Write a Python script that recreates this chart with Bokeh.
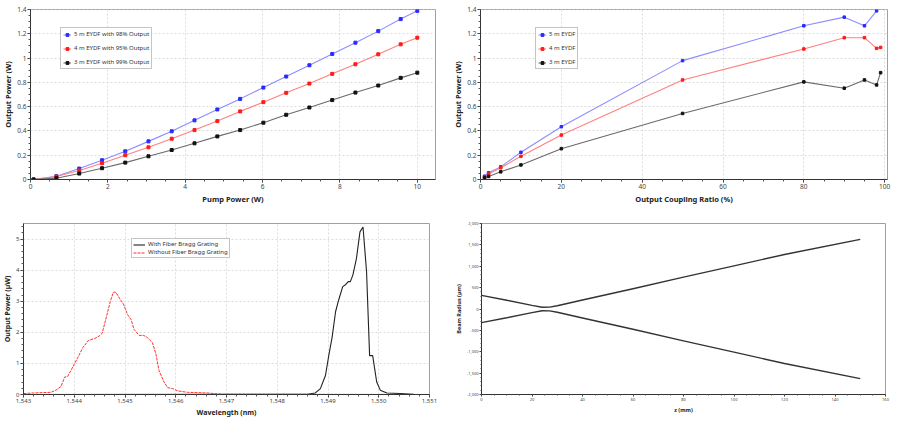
from bokeh.plotting import figure
from bokeh.models import Range1d, NumeralTickFormatter, Legend, LegendItem, SingleIntervalTicker
from bokeh.layouts import column, row
from bokeh.embed import file_html
from bokeh.resources import INLINE

FONT = "Noto Sans"

# ---- Data: pump power sweep (top-left) ----
pump_power = [0.08, 0.67, 1.26, 1.85, 2.45, 3.05, 3.65, 4.24, 4.83, 5.42, 6.02, 6.61, 7.21, 7.80, 8.40, 8.99, 9.57, 10.0]
out_5m_98 = [0.0, 0.027, 0.09, 0.159, 0.232, 0.314, 0.397, 0.487, 0.577, 0.664, 0.757, 0.848, 0.941, 1.034, 1.127, 1.222, 1.321, 1.389]
out_4m_95 = [0.0, 0.025, 0.074, 0.134, 0.200, 0.265, 0.336, 0.407, 0.481, 0.561, 0.637, 0.714, 0.790, 0.870, 0.949, 1.031, 1.113, 1.168]
out_3m_99 = [0.0, 0.011, 0.049, 0.093, 0.139, 0.191, 0.243, 0.298, 0.355, 0.407, 0.468, 0.533, 0.593, 0.654, 0.716, 0.774, 0.837, 0.880]

# ---- Data: output coupling ratio sweep (top-right) ----
ratio_5m = [1, 2, 5, 10, 20, 50, 80, 90, 95, 98]
cr_5m = [0.027, 0.055, 0.104, 0.224, 0.435, 0.979, 1.266, 1.337, 1.266, 1.389]
ratio_4m = [1, 2, 5, 10, 20, 50, 80, 90, 95, 98, 99]
cr_4m = [0.016, 0.046, 0.096, 0.191, 0.366, 0.82, 1.075, 1.168, 1.168, 1.08, 1.088]
ratio_3m = [1, 2, 5, 10, 20, 50, 80, 90, 95, 98, 99]
cr_3m = [0.014, 0.025, 0.063, 0.12, 0.254, 0.544, 0.804, 0.752, 0.82, 0.779, 0.88]

# ---- Data: spectra (bottom-left) ----
wl_fbg = [1543.0, 1548.59, 1548.75, 1548.85, 1548.95, 1549.02, 1549.08, 1549.15, 1549.21, 1549.29, 1549.35,
          1549.40, 1549.44, 1549.49, 1549.56, 1549.63, 1549.69, 1549.76, 1549.82, 1549.88, 1549.96, 1550.03,
          1550.16, 1550.42, 1550.69, 1551.0]
pw_fbg = [0.0, 0.01, 0.05, 0.19, 0.61, 1.30, 1.83, 2.67, 3.04, 3.47, 3.54,
          3.63, 3.63, 3.84, 4.37, 5.23, 5.39, 3.94, 1.25, 1.25, 0.40, 0.14,
          0.05, 0.03, 0.01, 0.0]
wl_nofbg = [1543.0, 1543.2, 1543.54, 1543.64, 1543.74, 1543.81, 1543.87, 1543.97, 1544.07, 1544.17, 1544.28,
            1544.40, 1544.49, 1544.55, 1544.62, 1544.71, 1544.77, 1544.82, 1544.89, 1544.97, 1545.05, 1545.12,
            1545.18, 1545.28, 1545.37, 1545.44, 1545.54, 1545.61, 1545.67, 1545.77, 1545.84, 1545.94, 1546.03,
            1546.23, 1546.62, 1546.89, 1551.0]
pw_nofbg = [0.03, 0.05, 0.07, 0.14, 0.26, 0.56, 0.58, 0.88, 1.19, 1.51, 1.74,
            1.80, 1.88, 1.97, 2.41, 2.99, 3.29, 3.29, 3.10, 2.91, 2.57, 2.41,
            2.09, 1.90, 1.90, 1.83, 1.67, 1.30, 0.77, 0.40, 0.22, 0.19, 0.12,
            0.07, 0.05, 0.01, 0.0]

# ---- Data: beam radius (bottom-right) ----
z_mm = [0, 10, 20, 24, 27, 30, 40, 60, 80, 100, 120, 150]
radius_upper = [320, 205, 85, 42, 45, 75, 210, 475, 745, 1010, 1275, 1630]
radius_lower = [-320, -205, -85, -42, -45, -75, -210, -475, -745, -1010, -1275, -1630]


def make_fig(width, height, bl, br, bt, bb, xr, yr):
    p = figure(width=width, height=height, x_range=Range1d(*xr), y_range=Range1d(*yr),
               output_backend="svg", toolbar_location=None,
               min_border_left=bl, min_border_right=br, min_border_top=bt, min_border_bottom=bb)
    p.outline_line_color = "#a0a0a0"
    p.background_fill_color = "white"
    p.border_fill_color = "white"
    return p


def style_axes(p, tick_fs, label_fs, tick_out=3, minor_out=2):
    for ax in (p.xaxis[0], p.yaxis[0]):
        ax.major_label_text_font = FONT
        ax.major_label_text_font_size = tick_fs
        ax.major_label_text_color = "#444444"
        ax.axis_label_text_font = FONT
        ax.axis_label_text_font_size = label_fs
        ax.axis_label_text_font_style = "bold"
        ax.axis_label_text_color = "#222222"
        ax.axis_line_color = "#333333"
        ax.major_tick_line_color = "#333333"
        ax.minor_tick_line_color = "#555555"
        ax.major_tick_in = 0
        ax.major_tick_out = tick_out
        ax.minor_tick_in = 0
        ax.minor_tick_out = minor_out
        ax.major_label_standoff = 1
        ax.axis_label_standoff = 2
    p.yaxis[0].axis_label_standoff = 1


def style_grid(p):
    p.grid.grid_line_color = "#dcdcdc"
    p.grid.grid_line_dash = "2 2"


def style_legend(lg, fs, label_h, spacing, padding, glyph_w=8):
    lg.label_text_font = FONT
    lg.label_text_font_size = fs
    lg.label_text_color = "#333333"
    lg.label_height = label_h
    lg.glyph_height = label_h
    lg.glyph_width = glyph_w
    lg.label_standoff = 3
    lg.spacing = spacing
    lg.padding = padding
    lg.margin = 0
    lg.border_line_color = "#8c8c8c"
    lg.background_fill_alpha = 1.0


BLUE_L, BLUE_M = "#8c8cff", "#2a2aff"
RED_L, RED_M = "#ff8080", "#ff1a1a"
BLK_L, BLK_M = "#6a6a6a", "#111111"

# ---------------- Top-left ----------------
p1 = make_fig(450, 206, 28, 15, 9, 26, (0, 10.47), (0, 1.4001))
style_axes(p1, "6.5px", "7.5px")
style_grid(p1)
p1.xaxis.axis_label = "Pump Power (W)"
p1.yaxis.axis_label = "Output Power (W)"
p1.xaxis.ticker = SingleIntervalTicker(interval=2, num_minor_ticks=4)
p1.yaxis.ticker = SingleIntervalTicker(interval=0.2, num_minor_ticks=4)
p1.yaxis.formatter = NumeralTickFormatter(format="0.[0]")
items = []
for ys, lc, mc, lab in [(out_5m_98, BLUE_L, BLUE_M, "5 m EYDF with 98% Output"),
                        (out_4m_95, RED_L, RED_M, "4 m EYDF with 95% Output"),
                        (out_3m_99, BLK_L, BLK_M, "3 m EYDF with 99% Output")]:
    l = p1.line(pump_power, ys, line_color=lc, line_width=1.1)
    s = p1.scatter(pump_power, ys, marker="square", size=3, fill_color=mc, line_color=mc)
    items.append(LegendItem(label=lab, renderers=[l, s]))
lg1 = Legend(items=items, location=(30, 110))
style_legend(lg1, "6px", 7, 6, 2)
p1.add_layout(lg1)

# ---------------- Top-right ----------------
p2 = make_fig(450, 206, 30, 13, 9, 26, (0, 100.7), (0, 1.4001))
style_axes(p2, "6.5px", "7.5px")
style_grid(p2)
p2.xaxis.axis_label = "Output Coupling Ratio (%)"
p2.yaxis.axis_label = "Output Power (W)"
p2.xaxis.ticker = SingleIntervalTicker(interval=20, num_minor_ticks=4)
p2.yaxis.ticker = SingleIntervalTicker(interval=0.2, num_minor_ticks=4)
p2.yaxis.formatter = NumeralTickFormatter(format="0.[0]")
items = []
for xs, ys, lc, mc, lab in [(ratio_5m, cr_5m, BLUE_L, BLUE_M, "5 m EYDF"),
                            (ratio_4m, cr_4m, RED_L, RED_M, "4 m EYDF"),
                            (ratio_3m, cr_3m, BLK_L, BLK_M, "3 m EYDF")]:
    l = p2.line(xs, ys, line_color=lc, line_width=1.1)
    s = p2.scatter(xs, ys, marker="square", size=2.5, fill_color=mc, line_color=mc)
    items.append(LegendItem(label=lab, renderers=[l, s]))
lg2 = Legend(items=items, location=(55, 110))
style_legend(lg2, "6px", 7, 6, 2)
p2.add_layout(lg2)

# ---------------- Bottom-left ----------------
p3 = make_fig(450, 213, 22, 21, 15, 25, (1543, 1551), (0, 5.5))
style_axes(p3, "6px", "7px")
style_grid(p3)
p3.xaxis.axis_label = "Wavelength (nm)"
p3.yaxis.axis_label = "Output Power (µW)"
p3.xaxis.ticker = SingleIntervalTicker(interval=1, num_minor_ticks=5)
p3.yaxis.ticker = SingleIntervalTicker(interval=1, num_minor_ticks=5)
p3.xaxis.formatter = NumeralTickFormatter(format="0,0")
l_fbg = p3.line(wl_fbg, pw_fbg, line_color="#222222", line_width=1.1)
l_nofbg = p3.line(wl_nofbg, pw_nofbg, line_color="#ff3030", line_width=1.0, line_dash="3 1")
lg3 = Legend(items=[LegendItem(label="With Fiber Bragg Grating", renderers=[l_fbg]),
                    LegendItem(label="Without Fiber Bragg Grating", renderers=[l_nofbg])],
             location=(108, 136))
style_legend(lg3, "6px", 7, 0, 1, glyph_w=12)
p3.add_layout(lg3)

# ---------------- Bottom-right ----------------
p4 = make_fig(450, 213, 31, 15, 17, 22, (0, 160), (-2000, 2000))
style_axes(p4, "4px", "5.5px", tick_out=2, minor_out=1)
p4.grid.visible = False
p4.xaxis.axis_label = "z (mm)"
p4.yaxis.axis_label = "Beam Radius (µm)"
p4.xaxis.ticker = SingleIntervalTicker(interval=20, num_minor_ticks=4)
p4.yaxis.ticker = SingleIntervalTicker(interval=500, num_minor_ticks=5)
p4.yaxis.formatter = NumeralTickFormatter(format="0,0")
p4.line(z_mm, radius_upper, line_color="#333333", line_width=1.4)
p4.line(z_mm, radius_lower, line_color="#333333", line_width=1.4)

layout = column(row(p1, p2), row(p3, p4))
open("out.html", "w").write(file_html(layout, INLINE))
